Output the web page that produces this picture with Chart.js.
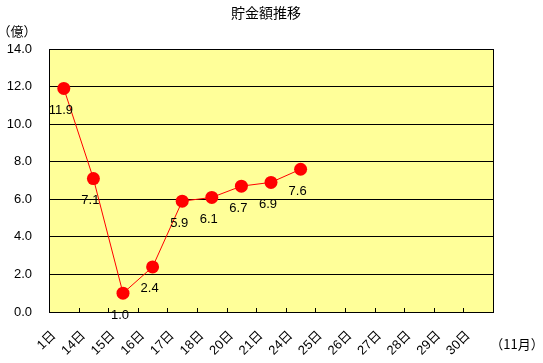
<!DOCTYPE html>
<html><head><meta charset="utf-8">
<script src="https://cdn.jsdelivr.net/npm/chart.js@4/dist/chart.umd.min.js"></script>
<style>html,body{margin:0;padding:0;background:#fff;}canvas{display:block;}</style>
</head><body>
<canvas id="c" width="543" height="363"></canvas>
<script>
const title = "貯金額推移";
const yUnit = "（億）";
const xUnit = "（11月）";
const categories = ["1日","14日","15日","16日","17日","18日","20日","21日","24日","25日","26日","27日","28日","29日","30日"];
const savings = [11.9, 7.1, 1.0, 2.4, 5.9, 6.1, 6.7, 6.9, 7.6, null, null, null, null, null, null];
const yTicks = [0, 2, 4, 6, 8, 10, 12, 14];

const LABEL_FONT = '13px "Liberation Sans", Arial, sans-serif';
const CJK_FONT = '"Liberation Sans", "Noto Sans CJK JP", sans-serif';

const decor = {
  id: 'decor',
  beforeDraw(chart) {
    const {ctx, chartArea: a} = chart;
    ctx.save();
    ctx.fillStyle = '#FFFF99';
    ctx.fillRect(a.left, a.top, a.right - a.left, a.bottom - a.top);
    ctx.restore();
  },
  afterDraw(chart) {
    const {ctx, chartArea: a} = chart;
    const xs = chart.scales.x;
    ctx.save();
    ctx.strokeStyle = '#000';
    ctx.lineWidth = 1;
    ctx.beginPath();
    for (let i = 1; i < categories.length; i++) {
      const x = Math.round((xs.getPixelForValue(i - 1) + xs.getPixelForValue(i)) / 2) + 0.5;
      ctx.moveTo(x, Math.round(a.bottom) + 0.5);
      ctx.lineTo(x, Math.round(a.bottom) - 4);
    }
    ctx.stroke();
    ctx.strokeRect(Math.round(a.left) + 0.5, Math.round(a.top) + 0.5, Math.round(a.right - a.left), Math.round(a.bottom - a.top));
    const meta = chart.getDatasetMeta(0);
    ctx.fillStyle = '#000';
    ctx.font = LABEL_FONT;
    ctx.textAlign = 'center';
    ctx.textBaseline = 'middle';
    meta.data.forEach((pt, i) => {
      const v = savings[i];
      if (v === null) return;
      ctx.fillText(v.toFixed(1), pt.x - 3, pt.y + 22);
    });
    ctx.font = '14px "Noto Sans CJK JP", sans-serif';
    ctx.fillText(title, 266, 13);
    ctx.font = '13px "Noto Sans CJK JP", sans-serif';
    ctx.fillText(yUnit, 17, 31);
    ctx.fillText(xUnit, 517, 344);
    ctx.restore();
  }
};

new Chart(document.getElementById('c'), {
  type: 'line',
  data: {
    labels: categories,
    datasets: [{
      data: savings,
      borderColor: '#FF0000',
      backgroundColor: '#FF0000',
      borderWidth: 1,
      pointRadius: 6.5,
      pointBorderWidth: 0,
      pointHoverRadius: 6.5,
      tension: 0,
      spanGaps: false
    }]
  },
  options: {
    responsive: false,
    animation: false,
    events: [],
    layout: { padding: { left: 0, right: 50, top: 49, bottom: 0 } },
    plugins: { legend: { display: false }, title: { display: false }, tooltip: { enabled: false } },
    scales: {
      x: {
        type: 'category',
        offset: true,
        grid: { display: false, drawTicks: false },
        border: { display: false },
        ticks: {
          autoSkip: false,
          minRotation: 45,
          maxRotation: 45,
          padding: 16,
          labelOffset: -10,
          color: '#000',
          font: { family: CJK_FONT, size: 13 }
        },
        afterFit(s) { s.height = 51; }
      },
      y: {
        min: 0,
        max: 14,
        afterBuildTicks(s) { s.ticks = yTicks.map(v => ({ value: v })); },
        grid: { color: '#000', lineWidth: 1, drawTicks: false },
        border: { display: false },
        ticks: {
          padding: 17,
          color: '#000',
          font: { family: '"Liberation Sans", Arial, sans-serif', size: 13 },
          callback: v => Number(v).toFixed(1)
        },
        afterFit(s) { s.width = 49; }
      }
    }
  },
  plugins: [decor]
});
</script>
</body></html>
